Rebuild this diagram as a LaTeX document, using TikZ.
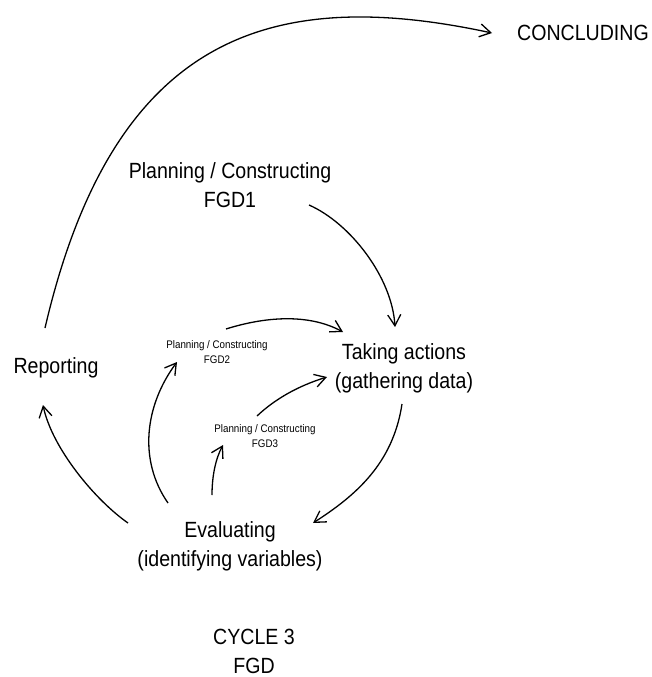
\documentclass[tikz,border=0pt]{standalone}
\usepackage{fontspec}
\setmainfont{Liberation Sans}[FakeStretch=0.89]
\usepackage{tikz}
\usetikzlibrary{calc, positioning, arrows.meta}
\tikzset{
    phase/.style={align=center, inner sep=0pt, font=\fontsize{22}{29}\selectfont},
    subphase/.style={align=center, inner sep=0pt, font=\fontsize{11}{14.5}\selectfont},
    arrow/.style={-{Straight Barb[length=11pt, width=13pt]}, line width=1.3pt}
}

\begin{document}
\begin{tikzpicture}[x=1pt, y=-1pt, node distance=1.5cm]
        \useasboundingbox (0,0) rectangle (651,677);

        % Stages
        \node[phase] (Concluding) at (583,33) {CONCLUDING};
        \node[phase] (Plan1) at (230,185) {Planning / Constructing\\FGD1};
        \node[phase] (Taking) at (404,368) {Taking actions\\(gathering data)};
        \node[phase] (Reporting) at (56,368) {Reporting};
        \node[phase] (Evaluating) at (230,546) {Evaluating\\(identifying variables)};
        \node[phase, below=58pt of Evaluating, xshift=24pt] (Cycle) {CYCLE 3\\FGD};

        % Inner cycles
        \node[subphase] (Plan2) at (217,352) {Planning / Constructing\\FGD2};
        \node[subphase] (Plan3) at (265,436) {Planning / Constructing\\FGD3};

        % Wires
        \draw[arrow] ([shift={(-11,-40)}]Reporting.center) .. controls (113,36) and (269,-15) .. ([shift={(-91,0)}]Concluding.center);
        \draw[arrow] ([shift={(79,20)}]Plan1.center) .. controls (350,223) and (392,277) .. ([shift={(-9,-41)}]Taking.center);
        \draw[arrow] ([shift={(9,-23)}]Plan2.center) .. controls (264,317) and (308,313) .. ([shift={(-61,-36)}]Taking.center);
        \draw[arrow] ([shift={(-8,-20)}]Plan3.center) .. controls (275,399) and (298,386) .. ([shift={(-77,9)}]Taking.center);
        \draw[arrow] ([shift={(-2,36)}]Taking.center) .. controls (393,464) and (355,496) .. ([shift={(83,-23)}]Evaluating.center);
        \draw[arrow] ([shift={(-102,-23)}]Evaluating.center) .. controls (95,500) and (52,448) .. ([shift={(-13,37)}]Reporting.center);
        \draw[arrow] ([shift={(-62,-43)}]Evaluating.center) .. controls (138,460) and (145,405) .. ([shift={(-40,10)}]Plan2.center);
        \draw[arrow] ([shift={(-18,-51)}]Evaluating.center) .. controls (212,475) and (216,458) .. ([shift={(-42,9)}]Plan3.center);

    \end{tikzpicture}
\end{document}
